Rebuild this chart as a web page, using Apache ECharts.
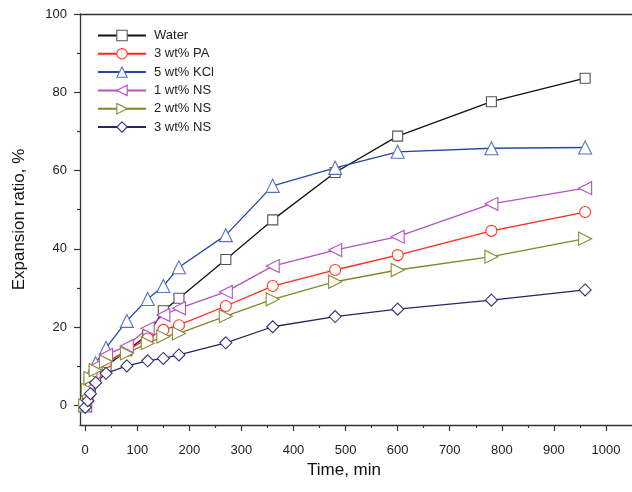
<!DOCTYPE html>
<html><head><meta charset="utf-8">
<script src="https://cdn.jsdelivr.net/npm/echarts@6/dist/echarts.min.js"></script>
<style>html,body{margin:0;padding:0;background:#fff}#c{width:632px;height:492px}</style>
</head><body><div id="c"></div>
<script>
const times = [0, 5, 10, 20, 40, 80, 120, 150, 180, 270, 360, 480, 600, 780, 960];
const seriesNames = ['Water', '3 wt% PA', '5 wt% KCl', '1 wt% NS', '2 wt% NS', '3 wt% NS'];
const water = [0, 2, 4.5, 7, 10, 14, 18, 24.2, 27.4, 37.3, 47.4, 59.5, 68.8, 77.6, 83.6];
const pa3 = [0, 2.5, 5, 8, 11, 14, 17.1, 19.3, 20.5, 25.4, 30.5, 34.6, 38.4, 44.6, 49.4];
const kcl5 = [0, 5, 8, 10.8, 14.7, 21.6, 27.2, 30.5, 35.3, 43.5, 56.1, 60.7, 64.8, 65.7, 65.9];
const ns1 = [0, 4, 7, 10, 12.9, 15.2, 19.7, 23.1, 24.8, 29.0, 35.6, 39.7, 43.1, 51.5, 55.5];
const ns2 = [0, 4, 7, 9, 11.2, 13.3, 15.9, 17.6, 18.4, 22.8, 27.1, 31.6, 34.6, 38.0, 42.6];
const ns3 = [-0.5, 1.2, 3, 5.8, 8.2, 10.1, 11.4, 12.0, 12.9, 16.0, 20.1, 22.7, 24.6, 26.9, 29.5];
const xTicks = [0, 100, 200, 300, 400, 500, 600, 700, 800, 900, 1000];
const xMinor = [50, 150, 250, 350, 450, 550, 650, 750, 850, 950];
const yTicks = [0, 20, 40, 60, 80, 100];
const yMinor = [10, 30, 50, 70, 90];

const values = [water, pa3, kcl5, ns1, ns2, ns3];
const lineColors = ['#111111', '#ff2a1a', '#2448a8', '#b452be', '#85852a', '#262668'];
const markColors = ['#555555', '#ff3a2a', '#5472c8', '#b452be', '#8a8a30', '#33337a'];
const symbols = ['rect', 'circle', 'triangle', 'triangle', 'triangle', 'diamond'];
const rotates = [0, 0, 0, 90, -90, 0];
const sizes = [10, 11, 13, 13, 13, [12, 12]];

const font = 'Liberation Sans, Arial, sans-serif';
const chart = echarts.init(document.getElementById('c'));
const xBase = {type: 'value', min: -10, max: 1050, gridIndex: 0};
const yBase = {type: 'value', min: -5, max: 100, gridIndex: 0};
chart.setOption({
  animation: false,
  grid: {left: 80, top: 14, width: 555, height: 411},
  legend: {
    orient: 'vertical', left: 97, top: 29, padding: 0, itemWidth: 48, itemHeight: 13, itemGap: 5.3,
    data: seriesNames.map((n, i) => ({name: n, itemStyle: {color: '#ffffff', borderColor: markColors[i], borderWidth: 1.1}})),
    textStyle: {fontFamily: font, fontSize: 13, color: '#222', padding: [0, 0, 0, 3]}
  },
  xAxis: [
    Object.assign({}, xBase, {
      position: 'bottom',
      name: 'Time, min', nameLocation: 'middle', nameGap: 37,
      nameTextStyle: {fontFamily: font, fontSize: 17, color: '#111', padding: [0, 24, 0, 0]},
      axisLine: {onZero: false, lineStyle: {color: '#333', width: 1.3}},
      axisTick: {show: true, length: 6, customValues: xTicks, lineStyle: {color: '#333', width: 1.2}},
      axisLabel: {customValues: xTicks, margin: 19, fontFamily: font, fontSize: 13, color: '#222', formatter: v => String(v)},
      splitLine: {show: false}
    }),
    Object.assign({}, xBase, {
      position: 'bottom',
      axisLine: {show: false, onZero: false},
      axisTick: {show: true, length: 3, customValues: xMinor, lineStyle: {color: '#333', width: 1.2}},
      axisLabel: {show: false},
      splitLine: {show: false}
    }),
    Object.assign({}, xBase, {
      position: 'top',
      axisLine: {show: true, onZero: false, lineStyle: {color: '#333', width: 1.3}},
      axisTick: {show: false},
      axisLabel: {show: false},
      splitLine: {show: false}
    })
  ],
  yAxis: [
    Object.assign({}, yBase, {
      position: 'left',
      name: 'Expansion ratio, %', nameLocation: 'middle', nameGap: 52,
      nameTextStyle: {fontFamily: font, fontSize: 17, color: '#111'},
      axisLine: {show: true, onZero: false, lineStyle: {color: '#333', width: 1.3}},
      axisTick: {show: true, length: 6, customValues: yTicks, lineStyle: {color: '#333', width: 1.2}},
      axisLabel: {customValues: yTicks, margin: 13, fontFamily: font, fontSize: 13, color: '#222'},
      splitLine: {show: false}
    }),
    Object.assign({}, yBase, {
      position: 'left',
      axisLine: {show: false, onZero: false},
      axisTick: {show: true, length: 3, customValues: yMinor, lineStyle: {color: '#333', width: 1.2}},
      axisLabel: {show: false},
      splitLine: {show: false}
    })
  ],
  series: seriesNames.map((n, i) => ({
    name: n, type: 'line', xAxisIndex: 0, yAxisIndex: 0,
    data: times.map((t, j) => [t, values[i][j]]),
    symbol: symbols[i], symbolSize: sizes[i], symbolRotate: rotates[i], showAllSymbol: true,
    lineStyle: {color: lineColors[i], width: 1.3},
    itemStyle: {color: '#ffffff', borderColor: markColors[i], borderWidth: 1.1},
    emphasis: {disabled: true}
  }))
});
</script></body></html>
